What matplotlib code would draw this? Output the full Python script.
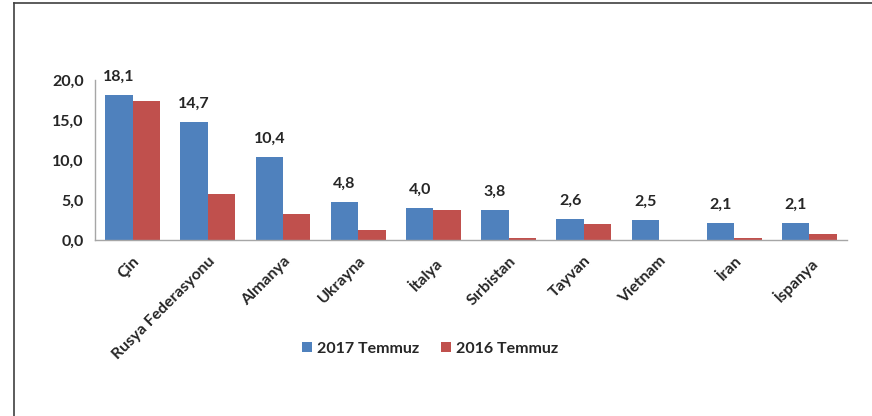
import numpy as np
from matplotlib import pyplot as plt
from matplotlib.lines import Line2D

countries = ['Çin', 'Rusya Federasyonu', 'Almanya', 'Ukrayna', 'İtalya',
             'Sırbistan', 'Tayvan', 'Vietnam', 'İran', 'İspanya']
jul_2017 = [18.1, 14.7, 10.4, 4.8, 4.0, 3.8, 2.6, 2.5, 2.1, 2.1]
jul_2016 = [17.4, 5.8, 3.3, 1.3, 3.8, 0.3, 2.0, 0.0, 0.2, 0.8]
yticks = [0, 5, 10, 15, 20]

BLUE = '#4F81BD'
RED = '#C0504D'
TXT = '#262626'

plt.rcParams['font.family'] = ['Lato', 'DejaVu Sans']
plt.rcParams['font.weight'] = 'bold'

fig = plt.figure(figsize=(8.72, 4.16), dpi=100)
ax = fig.add_axes([95 / 872, 1 - 240 / 416, 752 / 872, 160 / 416])

x = np.arange(len(countries))
w = 0.365
ax.bar(x - w / 2, jul_2017, w, color=BLUE, label='2017 Temmuz')
ax.bar(x + w / 2, jul_2016, w, color=RED, label='2016 Temmuz')

for xi, v in zip(x, jul_2017):
    ax.annotate(f'{v:.1f}'.replace('.', ','), (xi - w / 2, v),
                xytext=(0, 8), textcoords='offset points',
                ha='center', va='bottom', fontsize=11.5, fontweight='bold', color=TXT)

ax.set_xlim(-0.5, len(countries) - 0.5)
ax.set_ylim(0, 20)
ax.set_yticks(yticks)
ax.set_yticklabels([f'{t:.1f}'.replace('.', ',') for t in yticks],
                   fontsize=11.5, fontweight='bold', color=TXT)
ax.set_xticks(x)
ax.set_xticklabels(countries, rotation=45, ha='right', rotation_mode='anchor',
                   fontsize=11.5, fontweight='bold', color=TXT)
ax.tick_params(length=0)
ax.tick_params(axis='x', pad=10)
ax.tick_params(axis='y', pad=8)
for s in ['top', 'right']:
    ax.spines[s].set_visible(False)
for s in ['left', 'bottom']:
    ax.spines[s].set_color('#A6A6A6')
    ax.spines[s].set_linewidth(1.0)

fig.legend(loc='center', bbox_to_anchor=(430 / 872, 1 - 349 / 416), ncol=2,
           frameon=False, handlelength=0.6, handleheight=0.6, handletextpad=0.3,
           columnspacing=1.4, prop={'size': 11.5, 'weight': 'bold'},
           labelcolor=TXT)

# outer frame (only top and left edges fall inside the image)
fig.add_artist(Line2D([14 / 872, 1.0], [1 - 3 / 416] * 2, color='#404040', lw=1.2))
fig.add_artist(Line2D([14 / 872] * 2, [0.0, 1 - 3 / 416], color='#404040', lw=1.2))

fig.savefig('out.png', dpi=100)
